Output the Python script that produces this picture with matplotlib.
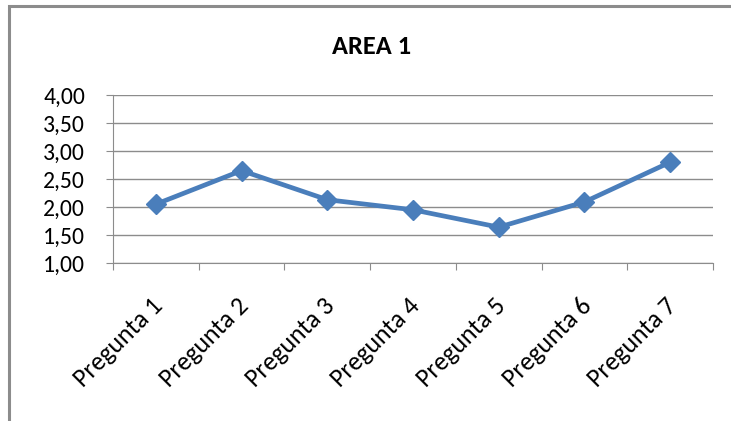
import matplotlib.pyplot as plt
import matplotlib.transforms as mtransforms
from matplotlib.patches import Rectangle
from matplotlib.ticker import FuncFormatter, FixedLocator

preguntas = ['Pregunta 1', 'Pregunta 2', 'Pregunta 3', 'Pregunta 4',
             'Pregunta 5', 'Pregunta 6', 'Pregunta 7']
valores = [2.05, 2.65, 2.13, 1.95, 1.64, 2.09, 2.80]
y_ticks = [1.0, 1.5, 2.0, 2.5, 3.0, 3.5, 4.0]

plt.rcParams['font.family'] = ['Carlito', 'Liberation Sans Narrow', 'Liberation Sans', 'DejaVu Sans']

fig = plt.figure(figsize=(7.31, 4.21), dpi=100)
ax = fig.add_axes([113 / 731, 1 - 263 / 421, 600 / 731, 168 / 421])

# chart frame, cut off on the right and at the bottom
fig.patches.append(Rectangle((9 / 731, -0.1), 1.2, 1 - 6 / 421 + 0.1,
                             transform=fig.transFigure, fill=False,
                             edgecolor='#8c8c8c', linewidth=2.2))

x = list(range(len(preguntas)))
ax.plot(x, valores, color='#4a7ebb', linewidth=3.4, marker='D',
        markersize=10, zorder=3)

ax.set_xlim(-0.5, len(preguntas) - 0.5)
ax.set_ylim(1.0, 4.0)
ax.set_yticks(y_ticks)
ax.yaxis.set_major_formatter(FuncFormatter(lambda v, p: f'{v:.2f}'.replace('.', ',')))
ax.grid(axis='y', color='#8c8c8c', linewidth=1)
ax.set_axisbelow(True)

# category ticks sit between the categories, labels on the centres
ax.xaxis.set_major_locator(FixedLocator([i - 0.5 for i in range(len(preguntas) + 1)]))
ax.xaxis.set_major_formatter(FuncFormatter(lambda v, p: ''))
ax.set_xticks(x, minor=True)
ax.set_xticklabels(preguntas, minor=True, rotation=45, ha='right',
                   va='top', rotation_mode='anchor', fontsize=18.5)
ax.tick_params(axis='x', which='minor', length=0, pad=22)
ax.tick_params(axis='x', which='major', length=5, color='#8c8c8c')
ax.tick_params(axis='y', length=5, color='#8c8c8c', labelsize=17, pad=15)

shift = mtransforms.ScaledTranslation(-5 / 100, 0, fig.dpi_scale_trans)
for lbl in ax.get_xticklabels(minor=True):
    lbl.set_transform(lbl.get_transform() + shift)

for side in ['top', 'right']:
    ax.spines[side].set_visible(False)
for side in ['left', 'bottom']:
    ax.spines[side].set_color('#8c8c8c')
ax.spines['bottom'].set_zorder(0)

fig.text(372 / 731, 1 - 47 / 421, 'AREA 1', ha='center', va='center',
         fontsize=19, fontweight='bold')

fig.savefig('out.png', dpi=100, facecolor='white')
